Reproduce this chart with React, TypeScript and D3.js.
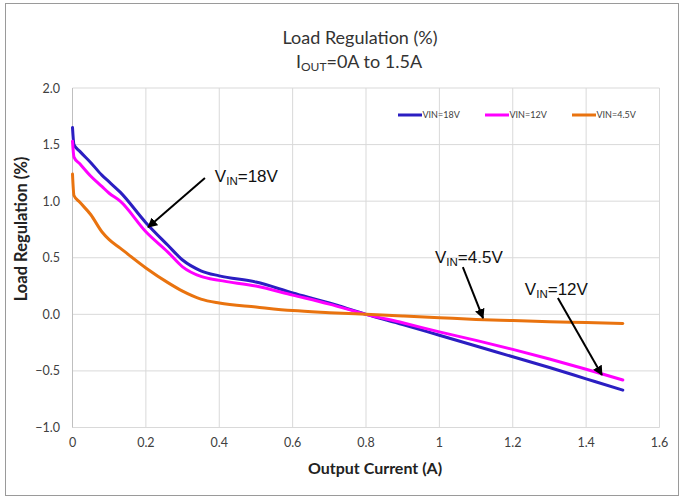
import React from "react";
import * as d3 from "d3";

const W = 683;
const H = 498;

// Output current (A)
const currents = [0, 0.004, 0.02, 0.05, 0.08, 0.1, 0.13, 0.2, 0.26, 0.3, 0.35, 0.4, 0.5, 0.6, 0.7, 0.8, 0.9, 1.0, 1.1, 1.2, 1.3, 1.4, 1.5];
// Load regulation (%)
const vin18 = [1.65, 1.5, 1.44, 1.34, 1.23, 1.17, 1.08, 0.81, 0.61, 0.48, 0.385, 0.34, 0.285, 0.19, 0.1, 0.0, -0.09, -0.185, -0.28, -0.375, -0.47, -0.57, -0.67];
const vin12 = [1.53, 1.39, 1.33, 1.22, 1.13, 1.07, 1.0, 0.73, 0.55, 0.42, 0.335, 0.3, 0.25, 0.17, 0.09, 0.0, -0.075, -0.155, -0.23, -0.31, -0.395, -0.485, -0.58];
const vin45 = [1.24, 1.05, 0.99, 0.88, 0.73, 0.66, 0.585, 0.41, 0.28, 0.205, 0.135, 0.1, 0.065, 0.033, 0.015, 0.0, -0.015, -0.03, -0.045, -0.055, -0.065, -0.072, -0.08];

const xTicks = [0, 0.2, 0.4, 0.6, 0.8, 1, 1.2, 1.4, 1.6];
const yTicks = [-1.0, -0.5, 0.0, 0.5, 1.0, 1.5, 2.0];

const seriesNames = ["VIN=18V", "VIN=12V", "VIN=4.5V"];
const seriesColors = ["#2B1EC2", "#FF00FF", "#E9730F"];
const seriesValues = [vin18, vin12, vin45];

// annotations in data units
const annoLabels = ["18V", "4.5V", "12V"];
const annoText = [[0.388, 1.169], [0.988, 0.453], [1.233, 0.17]];
const annoFrom = [[0.361, 1.204], [1.064, 0.418], [1.323, 0.144]];
const annoTo = [[0.206, 0.77], [1.119, -0.033], [1.443, -0.536]];

const plot = { left: 72.5, right: 659.5, top: 88, bottom: 427.5 };

export default function App() {
  const x = d3.scaleLinear().domain([0, 1.6]).range([plot.left, plot.right]);
  const y = d3.scaleLinear().domain([-1, 2]).range([plot.bottom, plot.top]);

  const line = d3
    .line<number>()
    .x((_, i) => x(currents[i]))
    .y((d) => y(d))
    .curve(d3.curveMonotoneX);

  const calibri = "Lato, 'Open Sans', sans-serif";
  const arial = "'Liberation Sans', Arial, sans-serif";

  const legendX = [398, 485, 572];
  const legendY = 115;

  return (
    <div style={{ position: "fixed", left: 0, top: 0 }}>
      <svg width={W} height={H} style={{ display: "block", background: "#fff" }}>
        <defs>
          <marker id="ah" viewBox="0 0 10 10" refX="9" refY="5" markerWidth="5" markerHeight="5" orient="auto" markerUnits="strokeWidth">
            <path d="M0,0 L10,5 L0,10 z" fill="#000" />
          </marker>
        </defs>
        <rect x={5.5} y={3.5} width={673} height={492} fill="#fff" stroke="#9a9a9a" strokeWidth={1} />

        {/* title */}
        <text x={360} y={44} textAnchor="middle" fontFamily={calibri} fontSize={18} fill="#333">
          Load Regulation (%)
        </text>
        <text x={359} y={67.5} textAnchor="middle" fontFamily={calibri} fontSize={18} fill="#333">
          I<tspan fontSize={12} dy={3}>OUT</tspan>
          <tspan dy={-3}>=0A to 1.5A</tspan>
        </text>

        {/* gridlines */}
        {yTicks.map((t) => (
          <line key={"gy" + t} x1={plot.left} x2={plot.right} y1={y(t)} y2={y(t)} stroke="#d9d9d9" strokeWidth={1} />
        ))}
        {xTicks.map((t) => (
          <line key={"gx" + t} x1={x(t)} x2={x(t)} y1={plot.top} y2={plot.bottom} stroke="#d9d9d9" strokeWidth={1} />
        ))}
        <line x1={plot.left} x2={plot.left} y1={plot.top} y2={plot.bottom} stroke="#bfbfbf" strokeWidth={1} />

        {/* tick labels */}
        {yTicks.map((t) => (
          <text key={"ty" + t} x={60} y={y(t) + 4.5} textAnchor="end" fontFamily={calibri} fontSize={12.5} fill="#404040">
            {d3.format(".1f")(t)}
          </text>
        ))}
        {xTicks.map((t) => (
          <text key={"tx" + t} x={x(t)} y={447} textAnchor="middle" fontFamily={calibri} fontSize={12.5} fill="#404040">
            {String(t)}
          </text>
        ))}

        {/* axis titles */}
        <text x={375} y={474} textAnchor="middle" fontFamily={calibri} fontWeight="bold" fontSize={16} fill="#222">
          Output Current (A)
        </text>
        <text transform={`translate(27,229) rotate(-90)`} textAnchor="middle" fontFamily={calibri} fontWeight="bold" fontSize={16.5} fill="#222">
          Load Regulation (%)
        </text>

        {/* series */}
        {seriesValues.map((vals, k) => (
          <path key={"s" + k} d={line(vals) || ""} fill="none" stroke={seriesColors[k]} strokeWidth={3} strokeLinejoin="round" strokeLinecap="round" />
        ))}

        {/* legend */}
        {seriesNames.map((n, k) => (
          <g key={"lg" + k}>
            <line x1={legendX[k]} x2={legendX[k] + 24} y1={legendY} y2={legendY} stroke={seriesColors[k]} strokeWidth={3} />
            <text x={legendX[k] + 24.5} y={legendY + 3.3} fontFamily={calibri} fontSize={9} fill="#404040">
              {n}
            </text>
          </g>
        ))}

        {/* annotations */}
        {annoLabels.map((lab, k) => (
          <g key={"an" + k}>
            <line
              x1={x(annoFrom[k][0])}
              y1={y(annoFrom[k][1])}
              x2={x(annoTo[k][0])}
              y2={y(annoTo[k][1])}
              stroke="#000"
              strokeWidth={2}
              markerEnd="url(#ah)"
            />
            <text x={x(annoText[k][0])} y={y(annoText[k][1])} fontFamily={arial} fontSize={17} fill="#111">
              V<tspan fontSize={11.5} dy={3}>IN</tspan>
              <tspan dy={-3}>={lab}</tspan>
            </text>
          </g>
        ))}
      </svg>
    </div>
  );
}
